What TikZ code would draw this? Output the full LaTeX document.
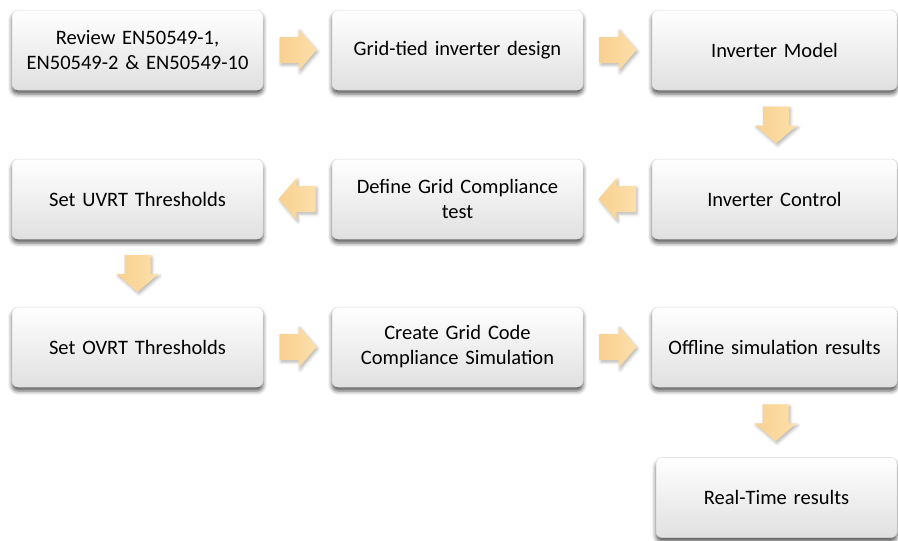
\documentclass[tikz,border=0pt]{standalone}
\usepackage{fontspec}
\setmainfont{Carlito}
\usetikzlibrary{shadows.blur,calc}

\definecolor{boxedge}{HTML}{D8D8D8}
\definecolor{boxbottom}{HTML}{E0E0E0}
\definecolor{arrowtail}{HTML}{F8D090}
\definecolor{arrowtip}{HTML}{FCE0AA}

\tikzset{
  x=1pt, y=-1pt,
  stepbox/.style={
    draw=boxedge, line width=0.5pt, rounded corners=6pt,
    top color=white, bottom color=boxbottom,
    minimum height=80pt, text width=#1-12pt, minimum width=#1,
    align=center, inner sep=0pt,
    font=\fontsize{20.5}{25}\selectfont,
    blur shadow={shadow xshift=0pt, shadow yshift=-4pt,
                 shadow blur radius=4pt, shadow opacity=65}
  },
  stepbox/.default=251pt,
  % block arrow drawn pointing right, centred on the origin
  bigarrow/.pic={
    \path[left color=arrowtail, right color=arrowtip,
          blur shadow={shadow xshift=1.5pt, shadow yshift=-2pt,
                       shadow blur radius=3pt, shadow opacity=30}]
      (-18,-13) -- (1,-13) -- (1,-21) -- (19,0) -- (1,21) -- (1,13)
      -- (-18,13) -- cycle;
  }
}

\begin{document}
\begin{tikzpicture}
\useasboundingbox (0,0) rectangle (898,541);

% process steps
\node[stepbox] (review)  at (137.5,50)  {Review EN50549-1,\\EN50549-2 \& EN50549-10};
\node[stepbox] (design)  at (457.5,50)  {Grid-tied inverter design};
\node[stepbox=245pt] (model)   at (774.5,50)  {Inverter Model};
\node[stepbox=245pt] (control) at (774.5,199) {Inverter Control};
\node[stepbox] (define)  at (457.5,199) {Define Grid Compliance\\test};
\node[stepbox] (uvrt)    at (137.5,199) {Set UVRT Thresholds};
\node[stepbox] (ovrt)    at (137.5,347) {Set OVRT Thresholds};
\node[stepbox] (create)  at (457.5,347) {Create Grid Code\\Compliance Simulation};
\node[stepbox=245pt] (offline) at (774.5,347) {Offline simulation results};
\node[stepbox=241pt] (realtime) at (776.5,497.5) {Real-Time results};

% block arrows between steps
\pic at ($(review.east)!0.5!(design.west)$) {bigarrow};
\pic at ($(design.east)!0.5!(model.west)$) {bigarrow};
\pic[rotate=-90] at ($(model.south)!0.5!(control.north)+(1.5,0)$) {bigarrow};
\pic[rotate=180] at ($(control.west)!0.5!(define.east)$) {bigarrow};
\pic[rotate=180] at ($(define.west)!0.5!(uvrt.east)$) {bigarrow};
\pic[rotate=-90] at ($(uvrt.south)!0.5!(ovrt.north)$) {bigarrow};
\pic at ($(ovrt.east)!0.5!(create.west)$) {bigarrow};
\pic at ($(create.east)!0.5!(offline.west)$) {bigarrow};
\pic[rotate=-90] at ($(offline.south)!0.5!(realtime.north)$) {bigarrow};
\end{tikzpicture}
\end{document}
